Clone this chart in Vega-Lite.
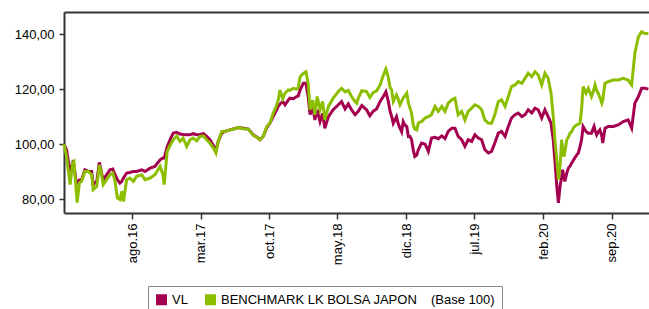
{
  "$schema": "https://vega.github.io/schema/vega-lite/v6.json",
  "width": 585,
  "height": 201,
  "autosize": {"type": "none"},
  "padding": {"left": 64, "top": 12, "right": 0, "bottom": 96},
  "config": {
    "view": {"stroke": null},
    "font": "Liberation Sans",
    "locale": {
      "number": {"decimal": ",", "thousands": ".", "grouping": [3], "currency": ["", " €"]},
      "time": {
        "dateTime": "%A, %e de %B de %Y, %X",
        "date": "%d/%m/%Y",
        "time": "%H:%M:%S",
        "periods": ["AM", "PM"],
        "days": ["domingo", "lunes", "martes", "miércoles", "jueves", "viernes", "sábado"],
        "shortDays": ["dom", "lun", "mar", "mié", "jue", "vie", "sáb"],
        "months": ["enero", "febrero", "marzo", "abril", "mayo", "junio", "julio", "agosto", "septiembre", "octubre", "noviembre", "diciembre"],
        "shortMonths": ["ene", "feb", "mar", "abr", "may", "jun", "jul", "ago", "sep", "oct", "nov", "dic"]
      }
    },
    "axis": {
      "domainColor": "#333333",
      "domainWidth": 2,
      "tickColor": "#333333",
      "tickWidth": 1.5,
      "labelColor": "#000000",
      "labelFontSize": 13,
      "labelFont": "Liberation Sans",
      "grid": false
    }
  },
  "data": {
    "values": [
      {"d":"2016-01-01","VL":100,"BM":100},
      {"d":"2016-01-09","VL":97.9,"BM":95.5},
      {"d":"2016-01-20","VL":89.6,"BM":85.3},
      {"d":"2016-01-28","VL":93.2,"BM":93.2},
      {"d":"2016-02-01","VL":92.5,"BM":93.7},
      {"d":"2016-02-07","VL":87.1,"BM":84.7},
      {"d":"2016-02-11","VL":86.0,"BM":78.8},
      {"d":"2016-02-18","VL":87.0,"BM":86.0},
      {"d":"2016-02-25","VL":87.0,"BM":86.5},
      {"d":"2016-03-06","VL":90.7,"BM":90.1},
      {"d":"2016-03-17","VL":90.1,"BM":90.1},
      {"d":"2016-03-27","VL":90.1,"BM":88.9},
      {"d":"2016-04-01","VL":85.3,"BM":83.5},
      {"d":"2016-04-12","VL":86.5,"BM":84.7},
      {"d":"2016-04-20","VL":93.4,"BM":92.5},
      {"d":"2016-04-27","VL":89.5,"BM":88.9},
      {"d":"2016-05-02","VL":87.1,"BM":85.3},
      {"d":"2016-05-13","VL":88.9,"BM":87.1},
      {"d":"2016-05-23","VL":90.7,"BM":88.9},
      {"d":"2016-06-01","VL":91.0,"BM":89.5},
      {"d":"2016-06-08","VL":88.9,"BM":86.5},
      {"d":"2016-06-15","VL":87.1,"BM":80.5},
      {"d":"2016-06-23","VL":85.9,"BM":79.9},
      {"d":"2016-06-29","VL":86.5,"BM":82.9},
      {"d":"2016-07-04","VL":87.7,"BM":79.2},
      {"d":"2016-07-14","VL":89.5,"BM":87.1},
      {"d":"2016-07-24","VL":89.7,"BM":87.7},
      {"d":"2016-08-04","VL":90.1,"BM":86.5},
      {"d":"2016-08-14","VL":90.1,"BM":88.3},
      {"d":"2016-08-30","VL":90.7,"BM":88.9},
      {"d":"2016-09-09","VL":90.1,"BM":87.1},
      {"d":"2016-09-25","VL":91.3,"BM":87.7},
      {"d":"2016-10-10","VL":91.9,"BM":88.9},
      {"d":"2016-10-26","VL":94.3,"BM":91.9},
      {"d":"2016-11-04","VL":95.0,"BM":89.0},
      {"d":"2016-11-08","VL":95.0,"BM":85.3},
      {"d":"2016-11-17","VL":99.0,"BM":97.3},
      {"d":"2016-11-26","VL":101.6,"BM":99.5},
      {"d":"2016-12-06","VL":104.0,"BM":101.6},
      {"d":"2016-12-17","VL":104.3,"BM":103.0},
      {"d":"2016-12-27","VL":103.7,"BM":101.0},
      {"d":"2017-01-06","VL":103.5,"BM":102.2},
      {"d":"2017-01-17","VL":103.4,"BM":99.2},
      {"d":"2017-01-27","VL":103.4,"BM":101.6},
      {"d":"2017-02-06","VL":103.8,"BM":102.2},
      {"d":"2017-02-17","VL":103.4,"BM":101.2},
      {"d":"2017-02-27","VL":103.5,"BM":102.8},
      {"d":"2017-03-10","VL":103.8,"BM":103.0},
      {"d":"2017-03-20","VL":102.8,"BM":101.6},
      {"d":"2017-03-30","VL":101.6,"BM":100.4},
      {"d":"2017-04-10","VL":99.5,"BM":98.6},
      {"d":"2017-04-18","VL":97.5,"BM":96.8},
      {"d":"2017-04-25","VL":101.0,"BM":101.0},
      {"d":"2017-05-06","VL":104.0,"BM":104.6},
      {"d":"2017-05-16","VL":104.6,"BM":104.6},
      {"d":"2017-05-26","VL":105.0,"BM":105.0},
      {"d":"2017-06-11","VL":105.5,"BM":105.4},
      {"d":"2017-06-27","VL":106.0,"BM":106.0},
      {"d":"2017-07-12","VL":105.8,"BM":105.6},
      {"d":"2017-07-28","VL":105.5,"BM":105.4},
      {"d":"2017-08-12","VL":103.4,"BM":103.2},
      {"d":"2017-08-24","VL":102.5,"BM":102.4},
      {"d":"2017-09-02","VL":101.6,"BM":101.6},
      {"d":"2017-09-12","VL":102.8,"BM":102.8},
      {"d":"2017-09-23","VL":106.0,"BM":106.4},
      {"d":"2017-10-03","VL":107.6,"BM":107.6},
      {"d":"2017-10-13","VL":110.0,"BM":111.2},
      {"d":"2017-10-22","VL":112.0,"BM":113.5},
      {"d":"2017-10-29","VL":113.7,"BM":116.1},
      {"d":"2017-11-03","VL":114.5,"BM":119.7},
      {"d":"2017-11-12","VL":115.5,"BM":116.5},
      {"d":"2017-11-19","VL":114.3,"BM":118.5},
      {"d":"2017-11-29","VL":116.0,"BM":119.7},
      {"d":"2017-12-04","VL":116.7,"BM":119.5},
      {"d":"2017-12-15","VL":116.5,"BM":120.3},
      {"d":"2017-12-25","VL":117.3,"BM":120.0},
      {"d":"2017-12-30","VL":117.5,"BM":120.4},
      {"d":"2018-01-05","VL":119.7,"BM":124.5},
      {"d":"2018-01-15","VL":122.1,"BM":125.7},
      {"d":"2018-01-23","VL":122.1,"BM":126.3},
      {"d":"2018-01-30","VL":117.3,"BM":122.1},
      {"d":"2018-02-05","VL":110.7,"BM":112.5},
      {"d":"2018-02-13","VL":113.7,"BM":116.0},
      {"d":"2018-02-20","VL":108.8,"BM":110.7},
      {"d":"2018-02-27","VL":112.5,"BM":117.3},
      {"d":"2018-03-08","VL":108.2,"BM":112.5},
      {"d":"2018-03-16","VL":111.2,"BM":115.5},
      {"d":"2018-03-23","VL":105.8,"BM":108.8},
      {"d":"2018-04-03","VL":110.0,"BM":113.7},
      {"d":"2018-04-18","VL":112.5,"BM":116.7},
      {"d":"2018-05-04","VL":114.3,"BM":119.1},
      {"d":"2018-05-14","VL":115.5,"BM":120.3},
      {"d":"2018-05-25","VL":112.8,"BM":119.0},
      {"d":"2018-06-04","VL":114.6,"BM":119.5},
      {"d":"2018-06-14","VL":112.5,"BM":117.3},
      {"d":"2018-06-25","VL":110.7,"BM":115.5},
      {"d":"2018-06-30","VL":111.3,"BM":114.9},
      {"d":"2018-07-05","VL":111.9,"BM":116.7},
      {"d":"2018-07-16","VL":114.0,"BM":119.4},
      {"d":"2018-07-31","VL":112.5,"BM":119.1},
      {"d":"2018-08-10","VL":110.3,"BM":117.0},
      {"d":"2018-08-21","VL":112.0,"BM":118.8},
      {"d":"2018-08-31","VL":112.8,"BM":119.4},
      {"d":"2018-09-11","VL":115.5,"BM":121.5},
      {"d":"2018-09-21","VL":117.3,"BM":125.0},
      {"d":"2018-09-29","VL":119.0,"BM":127.3},
      {"d":"2018-10-06","VL":115.8,"BM":124.5},
      {"d":"2018-10-12","VL":112.0,"BM":120.5},
      {"d":"2018-10-17","VL":110.0,"BM":119.7},
      {"d":"2018-10-22","VL":107.6,"BM":115.5},
      {"d":"2018-11-01","VL":110.0,"BM":117.9},
      {"d":"2018-11-06","VL":107.6,"BM":116.5},
      {"d":"2018-11-12","VL":105.8,"BM":114.3},
      {"d":"2018-11-17","VL":104.5,"BM":115.5},
      {"d":"2018-11-22","VL":108.2,"BM":116.8},
      {"d":"2018-11-27","VL":107.0,"BM":117.5},
      {"d":"2018-12-03","VL":106.4,"BM":118.5},
      {"d":"2018-12-08","VL":102.8,"BM":115.0},
      {"d":"2018-12-13","VL":102.8,"BM":113.1},
      {"d":"2018-12-18","VL":101.6,"BM":111.2},
      {"d":"2018-12-23","VL":98.0,"BM":107.0},
      {"d":"2018-12-28","VL":95.5,"BM":105.5},
      {"d":"2019-01-03","VL":96.0,"BM":105.2},
      {"d":"2019-01-08","VL":98.0,"BM":107.6},
      {"d":"2019-01-13","VL":99.2,"BM":108.0},
      {"d":"2019-01-18","VL":100.4,"BM":108.2},
      {"d":"2019-01-29","VL":100.0,"BM":109.5},
      {"d":"2019-02-08","VL":97.4,"BM":110.0},
      {"d":"2019-02-18","VL":102.2,"BM":110.7},
      {"d":"2019-03-01","VL":102.5,"BM":113.7},
      {"d":"2019-03-11","VL":102.0,"BM":111.9},
      {"d":"2019-03-22","VL":103.0,"BM":113.7},
      {"d":"2019-04-01","VL":102.0,"BM":111.9},
      {"d":"2019-04-11","VL":104.6,"BM":114.9},
      {"d":"2019-04-22","VL":105.8,"BM":116.1},
      {"d":"2019-05-02","VL":105.8,"BM":116.7},
      {"d":"2019-05-12","VL":102.8,"BM":110.7},
      {"d":"2019-05-23","VL":101.6,"BM":111.9},
      {"d":"2019-06-02","VL":99.2,"BM":108.8},
      {"d":"2019-06-12","VL":101.6,"BM":111.9},
      {"d":"2019-06-23","VL":101.0,"BM":113.1},
      {"d":"2019-07-03","VL":103.4,"BM":114.3},
      {"d":"2019-07-14","VL":102.2,"BM":113.7},
      {"d":"2019-07-24","VL":101.6,"BM":112.5},
      {"d":"2019-08-03","VL":98.0,"BM":108.8},
      {"d":"2019-08-14","VL":96.8,"BM":107.6},
      {"d":"2019-08-24","VL":97.4,"BM":107.6},
      {"d":"2019-09-03","VL":100.4,"BM":110.7},
      {"d":"2019-09-14","VL":104.0,"BM":115.5},
      {"d":"2019-09-24","VL":104.6,"BM":116.1},
      {"d":"2019-10-05","VL":102.8,"BM":113.7},
      {"d":"2019-10-15","VL":106.4,"BM":117.3},
      {"d":"2019-10-25","VL":109.5,"BM":120.9},
      {"d":"2019-11-05","VL":110.7,"BM":121.5},
      {"d":"2019-11-15","VL":111.3,"BM":122.7},
      {"d":"2019-11-26","VL":110.0,"BM":122.1},
      {"d":"2019-12-06","VL":110.7,"BM":123.9},
      {"d":"2019-12-16","VL":112.5,"BM":125.8},
      {"d":"2019-12-27","VL":111.3,"BM":124.5},
      {"d":"2020-01-06","VL":113.1,"BM":126.3},
      {"d":"2020-01-16","VL":112.5,"BM":125.1},
      {"d":"2020-01-27","VL":109.5,"BM":121.5},
      {"d":"2020-02-06","VL":112.5,"BM":125.8},
      {"d":"2020-02-16","VL":110.0,"BM":123.9},
      {"d":"2020-02-25","VL":107.6,"BM":118.5},
      {"d":"2020-03-03","VL":101.6,"BM":110.0},
      {"d":"2020-03-08","VL":94.3,"BM":101.6},
      {"d":"2020-03-14","VL":84.7,"BM":94.3},
      {"d":"2020-03-19","VL":78.7,"BM":87.1},
      {"d":"2020-03-24","VL":84.7,"BM":91.9},
      {"d":"2020-03-29","VL":88.0,"BM":101.6},
      {"d":"2020-04-01","VL":90.7,"BM":99.0},
      {"d":"2020-04-05","VL":88.0,"BM":95.5},
      {"d":"2020-04-08","VL":86.5,"BM":97.0},
      {"d":"2020-04-14","VL":89.5,"BM":101.6},
      {"d":"2020-04-19","VL":91.3,"BM":102.5},
      {"d":"2020-04-24","VL":92.0,"BM":104.0},
      {"d":"2020-04-29","VL":93.1,"BM":104.5},
      {"d":"2020-05-04","VL":94.0,"BM":105.8},
      {"d":"2020-05-09","VL":95.0,"BM":106.5},
      {"d":"2020-05-15","VL":96.0,"BM":107.0},
      {"d":"2020-05-20","VL":96.8,"BM":107.3},
      {"d":"2020-05-25","VL":99.0,"BM":107.6},
      {"d":"2020-05-30","VL":101.6,"BM":112.5},
      {"d":"2020-06-04","VL":106.4,"BM":120.9},
      {"d":"2020-06-13","VL":104.6,"BM":118.5},
      {"d":"2020-06-20","VL":104.0,"BM":120.3},
      {"d":"2020-06-30","VL":104.0,"BM":117.3},
      {"d":"2020-07-08","VL":106.4,"BM":120.0},
      {"d":"2020-07-11","VL":105.0,"BM":121.5},
      {"d":"2020-07-16","VL":103.4,"BM":119.5},
      {"d":"2020-07-21","VL":104.5,"BM":118.5},
      {"d":"2020-07-26","VL":105.2,"BM":117.0},
      {"d":"2020-08-01","VL":103.0,"BM":114.9},
      {"d":"2020-08-04","VL":100.4,"BM":116.0},
      {"d":"2020-08-11","VL":105.8,"BM":122.1},
      {"d":"2020-08-21","VL":106.4,"BM":122.7},
      {"d":"2020-09-06","VL":106.4,"BM":123.3},
      {"d":"2020-09-21","VL":107.0,"BM":123.3},
      {"d":"2020-10-07","VL":108.2,"BM":123.9},
      {"d":"2020-10-22","VL":108.8,"BM":123.3},
      {"d":"2020-11-02","VL":105.8,"BM":121.5},
      {"d":"2020-11-12","VL":114.9,"BM":133.0},
      {"d":"2020-11-23","VL":117.3,"BM":139.0},
      {"d":"2020-12-03","VL":120.3,"BM":140.8},
      {"d":"2020-12-13","VL":120.3,"BM":140.2},
      {"d":"2020-12-24","VL":120.0,"BM":140.2}
    ]
  },
  "transform": [{"fold": ["VL", "BM"], "as": ["serie", "valor"]}],
  "layer": [
    {
      "mark": {"type": "line", "strokeWidth": 3},
      "encoding": {
        "x": {
          "field": "d",
          "type": "temporal",
          "scale": {
            "type": "utc",
            "domain": [
              {"year": 2016, "month": 1, "date": 1, "utc": true},
              {"year": 2020, "month": 12, "date": 26, "utc": true}
            ]
          },
          "axis": {
            "orient": "bottom",
            "title": null,
            "values": [
              {"year": 2016, "month": 8, "date": 1, "utc": true},
              {"year": 2017, "month": 3, "date": 1, "utc": true},
              {"year": 2017, "month": 10, "date": 1, "utc": true},
              {"year": 2018, "month": 5, "date": 1, "utc": true},
              {"year": 2018, "month": 12, "date": 1, "utc": true},
              {"year": 2019, "month": 7, "date": 1, "utc": true},
              {"year": 2020, "month": 2, "date": 1, "utc": true},
              {"year": 2020, "month": 9, "date": 1, "utc": true}
            ],
            "format": "%b.%y",
            "labelAngle": -90,
            "tickSize": 6,
            "labelPadding": 4
          }
        },
        "y": {
          "field": "valor",
          "type": "quantitative",
          "scale": {"domain": [75, 148], "nice": false, "zero": false},
          "axis": {
            "title": null,
            "values": [80, 90, 100, 110, 120, 130, 140],
            "format": ".2f",
            "tickSize": 5,
            "labelPadding": 5
          }
        },
        "color": {
          "field": "serie",
          "type": "nominal",
          "scale": {"domain": ["VL", "BM"], "range": ["#A4004F", "#8CBE00"]},
          "legend": {
            "orient": "none",
            "legendX": 84,
            "legendY": 274,
            "direction": "horizontal",
            "title": "(Base 100)",
            "titleOrient": "right",
            "titleAngle": 0,
            "titleFontWeight": "normal",
            "titleFontSize": 13,
            "titleColor": "#000000",
            "titleFont": "Liberation Sans",
            "titlePadding": 14,
            "labelFontSize": 13,
            "labelColor": "#000000",
            "labelFont": "Liberation Sans",
            "labelOffset": 4,
            "labelLimit": 400,
            "labelExpr": "datum.label == 'BM' ? 'BENCHMARK LK BOLSA JAPON' : datum.label",
            "symbolType": "square",
            "symbolSize": 121,
            "symbolStrokeWidth": 0,
            "columnPadding": 16,
            "padding": 7,
            "strokeColor": "#888888",
            "fillColor": "#ffffff",
            "encode": {
              "symbols": {
                "update": {
                  "fill": {"scale": "color", "field": "value"},
                  "strokeWidth": {"value": 0},
                  "opacity": {"value": 1}
                }
              }
            }
          }
        }
      }
    },
    {
      "mark": {"type": "line", "opacity": 0},
      "encoding": {
        "x": {
          "field": "d",
          "type": "temporal",
          "axis": {"orient": "top", "labels": false, "ticks": false, "title": null}
        },
        "y": {"field": "valor", "type": "quantitative"}
      }
    }
  ],
  "resolve": {"axis": {"x": "independent"}}
}
